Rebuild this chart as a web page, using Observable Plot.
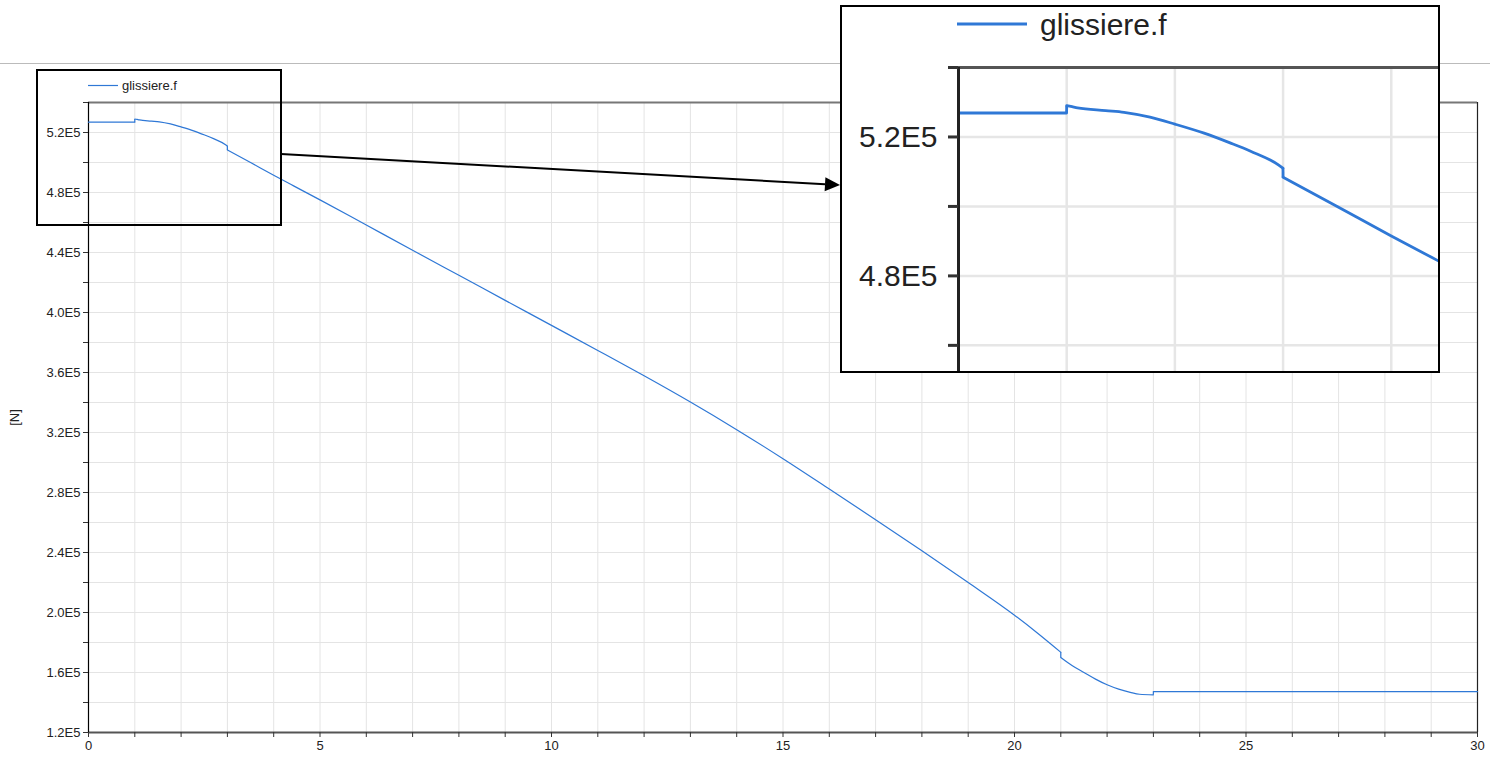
<!DOCTYPE html>
<html>
<head>
<meta charset="utf-8">
<script src="https://cdn.jsdelivr.net/npm/d3@7"></script>
<script src="https://cdn.jsdelivr.net/npm/@observablehq/plot@0.6"></script>
<style>
  html, body { margin: 0; padding: 0; background: #fff; }
  #wrap { position: relative; width: 1498px; height: 760px; overflow: hidden; font-family: "Liberation Sans", Arial, sans-serif; }
  #inset { position: absolute; left: 840px; top: 5px; width: 600px; height: 368px; background: #fff; }
</style>
</head>
<body>
<div id="wrap"><div id="main"></div><div id="inset"></div></div>
<script>
// ---- data ----
const seriesName = "glissiere.f";
const yUnitLabel = "[N]";
const times = [0, 0.999, 1.0, 1.05, 1.1, 1.36, 1.53, 1.77, 2.0, 2.27, 2.51, 2.7, 2.96, 2.999, 3.0, 3.5, 4.0, 4.43, 5, 6, 7, 8, 9, 10, 11, 12, 13, 14, 15, 16, 17, 18, 19, 20, 20.5, 20.999, 21.0, 21.25, 21.5, 21.75, 22.0, 22.25, 22.5, 22.7, 22.999, 23.0, 30];
const forces = [526900, 526900, 529000, 528700, 528400, 527600, 527100, 525700, 523700, 521100, 518300, 515900, 511900, 511000, 508400, 500000, 491500, 484400, 475100, 458300, 441500, 424800, 408100, 391400, 374700, 357800, 340300, 321900, 302500, 282300, 261900, 241200, 220000, 198200, 186200, 173500, 170000, 164500, 160000, 155600, 151800, 148900, 146800, 145500, 145100, 147300, 147300];
// event times where the signal jumps (start of each new continuous piece)
const eventTimes = [1.0, 3.0, 21.0, 23.0];
const xTicks = d3.range(0, 31, 1);
const yTicks = d3.range(120000, 540001, 20000);
const insetYTicks = [460000, 480000, 500000, 520000, 540000];
const insetXTicks = [1, 2, 3, 4];

const segOf = t => eventTimes.filter(e => t >= e).length;
const data = times.map((t, i) => ({t, f: forces[i], seg: segOf(t)}));
// jump connectors between consecutive pieces
const jumps = [];
for (let i = 1; i < data.length; i++) {
  if (data[i].seg !== data[i - 1].seg) jumps.push({t1: data[i - 1].t, f1: data[i - 1].f, t2: data[i].t, f2: data[i].f});
}
const blue = "#2f78d6";
const fontFam = "'Liberation Sans', Arial, sans-serif";
const fmtE5 = d => (d / 1e5).toFixed(1) + "E5";
const mainYLabel = d => (Math.round(d / 1e4) - 12) % 4 === 0 ? fmtE5(d) : "";
const insetYLabel = d => (Math.round(d / 1e4) % 4 === 0) ? fmtE5(d) : "";

function seriesMarks(w) {
  return [
    Plot.line(data, {x: "t", y: "f", z: "seg", stroke: blue, strokeWidth: w, curve: "monotone-x"}),
    Plot.link(jumps, {x1: "t1", y1: "f1", x2: "t2", y2: "f2", stroke: blue, strokeWidth: w})
  ];
}

// ---- main chart ----
const main = Plot.plot({
  width: 1498, height: 760,
  marginLeft: 88, marginRight: 21, marginTop: 102, marginBottom: 28,
  style: {fontFamily: fontFam, fontSize: "13px", color: "#222", background: "#fff"},
  x: {domain: [0, 30]},
  y: {domain: [120000, 540000]},
  marks: [
    Plot.gridX(xTicks, {stroke: "#e4e4e4", strokeOpacity: 1}),
    Plot.gridY(yTicks, {stroke: "#e4e4e4", strokeOpacity: 1}),
    Plot.ruleY([540000], {stroke: "#777", strokeWidth: 2}),
    Plot.ruleX([30], {stroke: "#222", strokeWidth: 1.2}),
    Plot.ruleY([120000], {stroke: "#555", strokeWidth: 2}),
    Plot.ruleX([0], {stroke: "#000", strokeWidth: 1.2}),
    Plot.axisX({ticks: xTicks, tickFormat: d => d % 5 === 0 ? String(d) : "", tickSize: 5, tickPadding: 3, label: null, stroke: "#333"}),
    Plot.axisY({ticks: yTicks, tickFormat: mainYLabel, tickSize: 5, tickPadding: 3, label: yUnitLabel, labelAnchor: "center", labelArrow: "none", labelOffset: 79, stroke: "#333"}),
    ...seriesMarks(1.2)
  ]
});
document.getElementById("main").appendChild(main);

const svg = d3.select(main);
// window separator line
svg.append("line").attr("x1", 0).attr("x2", 1490).attr("y1", 63.5).attr("y2", 63.5).attr("stroke", "#bbb").attr("stroke-width", 1);
// legend
svg.append("line").attr("x1", 88).attr("x2", 118).attr("y1", 85.5).attr("y2", 85.5).attr("stroke", blue).attr("stroke-width", 1.2);
svg.append("text").attr("x", 122).attr("y", 90).attr("text-anchor", "start").attr("font-size", 13).attr("fill", "#222").attr("font-family", fontFam).text(seriesName);
// zoom box
svg.append("rect").attr("x", 37).attr("y", 70).attr("width", 244).attr("height", 155).attr("fill", "none").attr("stroke", "#000").attr("stroke-width", 2);
// arrow
const ax0 = 281, ay0 = 154, ax1 = 840, ay1 = 185;
const ang = Math.atan2(ay1 - ay0, ax1 - ax0);
const hl = 15, hw = 7;
const bx = ax1 - hl * Math.cos(ang), by = ay1 - hl * Math.sin(ang);
svg.append("line").attr("x1", ax0).attr("y1", ay0).attr("x2", bx).attr("y2", by).attr("stroke", "#000").attr("stroke-width", 2);
svg.append("polygon").attr("points", [
  [ax1, ay1],
  [bx - hw * Math.sin(ang), by + hw * Math.cos(ang)],
  [bx + hw * Math.sin(ang), by - hw * Math.cos(ang)]
].map(p => p.join(",")).join(" ")).attr("fill", "#000");

// ---- inset (zoomed view) ----
const inset = Plot.plot({
  width: 600, height: 368,
  marginLeft: 118, marginRight: 0, marginTop: 62, marginBottom: 0,
  style: {fontFamily: fontFam, fontSize: "30px", color: "#222", background: "#fff"},
  x: {domain: [0, 4.455], axis: null},
  y: {domain: [451900, 540000]},
  clip: true,
  marks: [
    Plot.gridX(insetXTicks, {stroke: "#e6e6e6", strokeOpacity: 1, strokeWidth: 2.5}),
    Plot.gridY(insetYTicks, {stroke: "#e6e6e6", strokeOpacity: 1, strokeWidth: 2.5}),
    ...seriesMarks(2.8),
    Plot.ruleY([540000], {stroke: "#555", strokeWidth: 3, clip: false}),
    Plot.ruleX([0], {stroke: "#222", strokeWidth: 3, clip: false}),
    Plot.axisY({ticks: insetYTicks, tickFormat: insetYLabel, tickSize: 10, tickPadding: 11, strokeWidth: 3, label: null, stroke: "#333"})
  ]
});
document.getElementById("inset").appendChild(inset);
const isvg = d3.select(inset);
isvg.append("line").attr("x1", 117).attr("x2", 187).attr("y1", 19).attr("y2", 19).attr("stroke", blue).attr("stroke-width", 2.8);
isvg.append("text").attr("x", 200).attr("y", 30).attr("text-anchor", "start").attr("font-size", 30).attr("fill", "#222").attr("font-family", fontFam).text(seriesName);
isvg.append("rect").attr("x", 1).attr("y", 1).attr("width", 598).attr("height", 366).attr("fill", "none").attr("stroke", "#000").attr("stroke-width", 2);
</script>
</body>
</html>
